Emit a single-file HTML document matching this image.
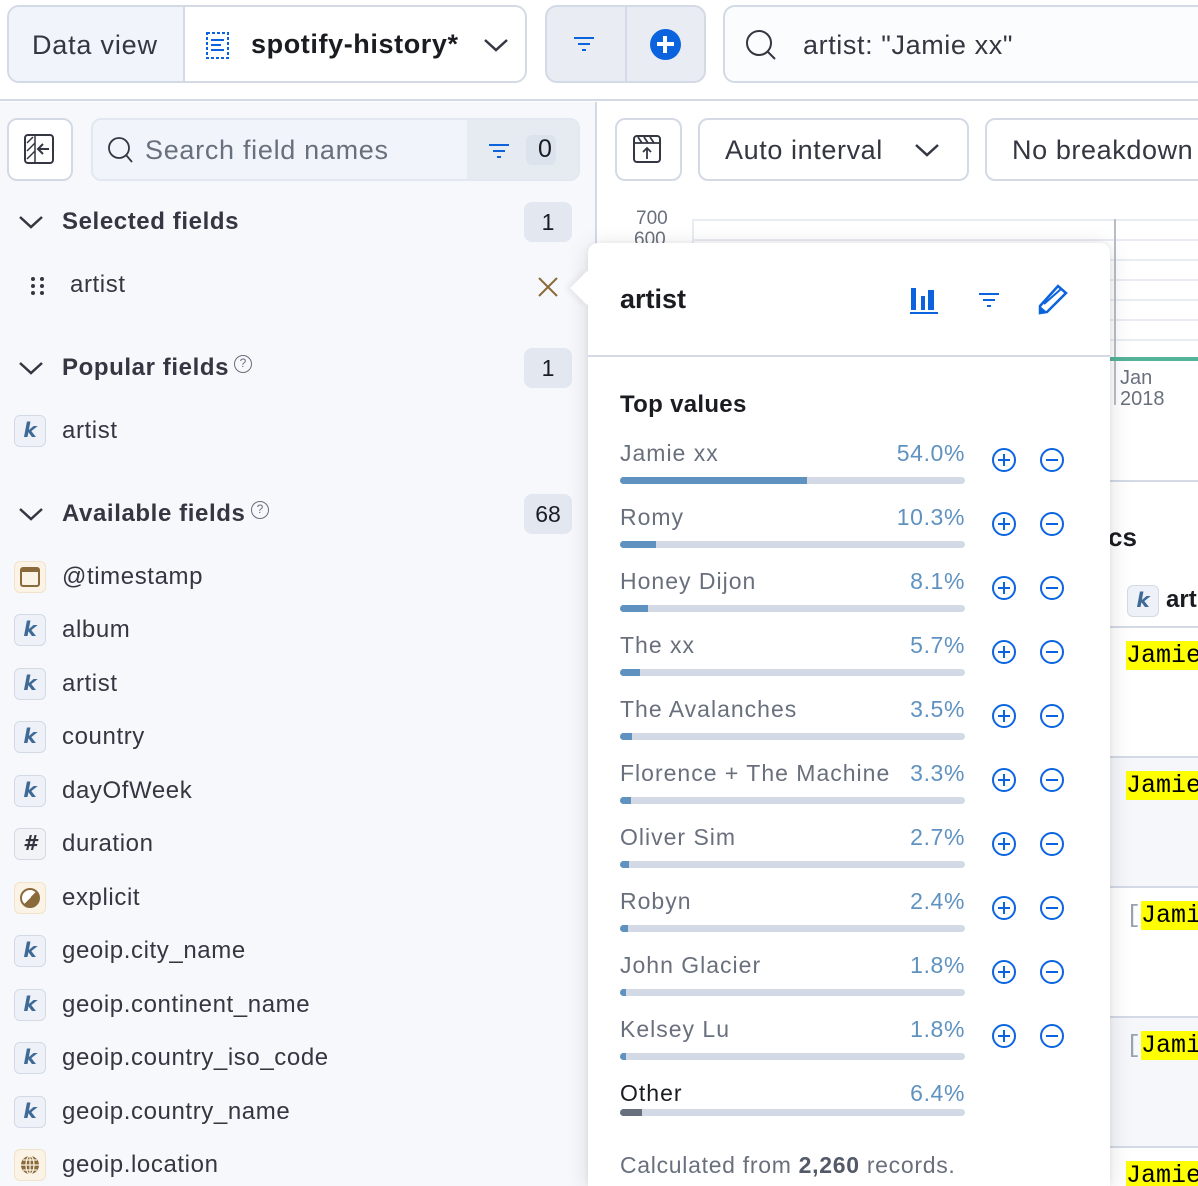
<!DOCTYPE html>
<html><head><meta charset="utf-8"><style>
*{box-sizing:border-box;margin:0;padding:0}
html,body{width:1198px;height:1186px;overflow:hidden}
body{position:relative;background:#fff;font-family:"Liberation Sans",sans-serif;color:#343741}
.a{position:absolute;white-space:nowrap}
.t{position:absolute;white-space:nowrap;line-height:30px;height:30px}
.ls{letter-spacing:0.6px}
.ic{position:absolute;width:32px;height:32px;border-radius:6px;border:1.5px solid #d3dae6;background:#eef2f8;color:#3f6a96;font-weight:bold;font-style:italic;font-size:20px;text-align:center;line-height:29px;font-family:"DejaVu Sans",sans-serif}
.badge{position:absolute;left:524px;width:48px;height:40px;border-radius:8px;background:#e3e8f0;font-size:23px;text-align:center;line-height:40px;color:#1a1c21}
.bar{position:absolute;left:620px;width:345px;height:7px;border-radius:4px;background:#d3dae6;overflow:hidden}
.bar i{position:absolute;left:0;top:0;bottom:0;background:#6092c0}
.lbl{position:absolute;left:620px;font-size:23px;color:#69707d;line-height:30px;letter-spacing:1px}
.pct{position:absolute;right:233px;font-size:23px;color:#6092c0;line-height:30px;letter-spacing:0.6px}
.circ{position:absolute;width:24px;height:24px;border:2px solid #0b64dd;border-radius:50%;color:#0b64dd}
.circ:before{content:"";position:absolute;left:4px;right:4px;top:9px;height:2px;background:#0b64dd}
.plus:after{content:"";position:absolute;top:4px;bottom:4px;left:9px;width:2px;background:#0b64dd}
.hl{background:#ff0;font-family:"Liberation Mono",monospace;font-size:25px;color:#000}
</style></head><body>
<!-- top bar -->
<div class="a" style="left:0;top:0;width:1198px;height:101px;background:#fff;border-bottom:2px solid #d3dae6"></div>
<div class="a" style="left:7px;top:5px;width:520px;height:78px;border:2px solid #d3dae6;border-radius:12px;background:#fff;overflow:hidden">
 <div class="a" style="left:0;top:0;width:176px;height:76px;background:#f1f4fa;border-right:2px solid #d3dae6"></div>
 <div class="t" style="left:23px;top:23px;font-size:27px;color:#343741;letter-spacing:0.8px">Data view</div>
 <svg class="a" style="left:196px;top:24px" width="26" height="30"><rect x="2" y="2" width="21" height="25" stroke="#0b64dd" stroke-width="2" stroke-dasharray="3 2" fill="none"/><path d="M6 9h13M6 14h10M6 19h13" stroke="#0b64dd" stroke-width="2"/></svg>
 <div class="t" style="left:242px;top:22px;font-size:27px;font-weight:bold;color:#1a1c21;letter-spacing:0.6px">spotify-history*</div>
 <svg class="a" style="left:474px;top:30px" width="26" height="16"><path d="M2 3 L13 13 L24 3" stroke="#343741" stroke-width="2.5" fill="none"/></svg>
</div>
<div class="a" style="left:545px;top:5px;width:161px;height:78px;border:2px solid #d3dae6;border-radius:12px;background:#e9edf3"></div>
<div class="a" style="left:625px;top:6px;width:2px;height:76px;background:#d3dae6"></div>
<svg class="a" style="left:573px;top:36px" width="22" height="16"><path d="M1 2h20M5 8h12M9 14h4" stroke="#0b64dd" stroke-width="2"/></svg>
<div class="a" style="left:650px;top:29px;width:31px;height:31px;border-radius:50%;background:#0b64dd"></div>
<div class="a" style="left:663px;top:36px;width:4px;height:17px;background:#fff"></div>
<div class="a" style="left:657px;top:42px;width:17px;height:4px;background:#fff"></div>
<div class="a" style="left:723px;top:5px;width:500px;height:78px;border:2px solid #d3dae6;border-radius:12px;background:#fbfcfd"></div>
<svg class="a" style="left:744px;top:28px" width="36" height="36"><circle cx="15" cy="15" r="12" stroke="#343741" stroke-width="2" fill="none"/><path d="M24 24 L31 31" stroke="#343741" stroke-width="2"/></svg>
<div class="t" style="left:803px;top:30px;font-size:27px;color:#343741;letter-spacing:0.6px">artist: "Jamie xx"</div>

<!-- left panel -->
<div class="a" style="left:0;top:102px;width:597px;height:1084px;background:#f7f8fc;border-right:2px solid #d3dae6"></div>
<div class="a" style="left:7px;top:118px;width:66px;height:63px;border:2px solid #d3dae6;border-radius:10px;background:#fff"></div>
<svg class="a" style="left:23px;top:133px" width="34" height="32"><rect x="2" y="2" width="28" height="28" rx="3" stroke="#343741" stroke-width="2" fill="none"/><path d="M12 2v28M4 10l6-6M4 18l8-8M4 26l8-8" stroke="#343741" stroke-width="1.5"/><path d="M26 16h-10M20 11l-5 5 5 5" stroke="#343741" stroke-width="2" fill="none"/></svg>
<div class="a" style="left:91px;top:118px;width:489px;height:63px;border:2px solid #e3e8f0;border-radius:10px;background:#f1f4fa;overflow:hidden">
 <div class="a" style="left:374px;top:0;width:115px;height:63px;background:#e6ebf2"></div>
 <div class="a" style="left:433px;top:15px;width:30px;height:30px;border-radius:6px;background:#dde3ec"></div>
</div>
<svg class="a" style="left:106px;top:135px" width="30" height="30"><circle cx="13" cy="13" r="10" stroke="#343741" stroke-width="1.8" fill="none"/><path d="M20 20 L26 27" stroke="#343741" stroke-width="1.8"/></svg>
<div class="t" style="left:145px;top:135px;font-size:27px;color:#69707d;letter-spacing:0.7px">Search field names</div>
<svg class="a" style="left:488px;top:143px" width="22" height="16"><path d="M1 2h20M5 8h12M9 14h4" stroke="#0b64dd" stroke-width="2"/></svg>
<div class="t" style="left:538px;top:134px;font-size:25px;color:#1a1c21">0</div>

<svg class="a" style="left:18px;top:214px" width="26" height="16"><path d="M2 3 L13 13 L24 3" stroke="#343741" stroke-width="2.5" fill="none"/></svg>
<div class="t ls" style="left:62px;top:207px;font-size:24px;font-weight:bold">Selected fields</div>
<div class="badge" style="top:202px">1</div>
<div class="a" style="left:31px;top:277px;font-size:0">
 <div class="a" style="left:0;top:0;width:4px;height:4px;border-radius:2px;background:#343741"></div><div class="a" style="left:9px;top:0;width:4px;height:4px;border-radius:2px;background:#343741"></div>
 <div class="a" style="left:0;top:7px;width:4px;height:4px;border-radius:2px;background:#343741"></div><div class="a" style="left:9px;top:7px;width:4px;height:4px;border-radius:2px;background:#343741"></div>
 <div class="a" style="left:0;top:14px;width:4px;height:4px;border-radius:2px;background:#343741"></div><div class="a" style="left:9px;top:14px;width:4px;height:4px;border-radius:2px;background:#343741"></div>
</div>
<div class="t ls" style="left:70px;top:270px;font-size:24px">artist</div>
<svg class="a" style="left:537px;top:276px" width="22" height="22"><path d="M2 2L20 20M20 2L2 20" stroke="#8a6a3a" stroke-width="2"/></svg>

<svg class="a" style="left:18px;top:360px" width="26" height="16"><path d="M2 3 L13 13 L24 3" stroke="#343741" stroke-width="2.5" fill="none"/></svg>
<div class="t ls" style="left:62px;top:353px;font-size:24px;font-weight:bold">Popular fields</div>
<div class="a" style="left:234px;top:355px;width:18px;height:18px;border:1.5px solid #69707d;border-radius:50%;font-size:12px;text-align:center;line-height:15px;color:#69707d">?</div>
<div class="badge" style="top:348px">1</div>
<div class="ic" style="left:14px;top:415px">k</div>
<div class="t ls" style="left:62px;top:416px;font-size:24px">artist</div>

<svg class="a" style="left:18px;top:506px" width="26" height="16"><path d="M2 3 L13 13 L24 3" stroke="#343741" stroke-width="2.5" fill="none"/></svg>
<div class="t ls" style="left:62px;top:499px;font-size:24px;font-weight:bold">Available fields</div>
<div class="a" style="left:251px;top:501px;width:18px;height:18px;border:1.5px solid #69707d;border-radius:50%;font-size:12px;text-align:center;line-height:15px;color:#69707d">?</div>
<div class="badge" style="top:494px">68</div>

<div class="ic" style="left:14px;top:561px;background:#fbf3e6;border-color:#f1e3c9"></div>
<div class="a" style="left:20px;top:567px;width:20px;height:20px;border:2.5px solid #8a6a3a;border-radius:3px;border-top-width:5px"></div>
<div class="t ls" style="left:62px;top:562px;font-size:24px">@timestamp</div>
<div class="ic" style="left:14px;top:614px">k</div><div class="t ls" style="left:62px;top:615px;font-size:24px">album</div>
<div class="ic" style="left:14px;top:668px">k</div><div class="t ls" style="left:62px;top:669px;font-size:24px">artist</div>
<div class="ic" style="left:14px;top:721px">k</div><div class="t ls" style="left:62px;top:722px;font-size:24px">country</div>
<div class="ic" style="left:14px;top:775px">k</div><div class="t ls" style="left:62px;top:776px;font-size:24px">dayOfWeek</div>
<div class="ic" style="left:14px;top:828px;color:#343741;background:#f1f3f6">#</div><div class="t ls" style="left:62px;top:829px;font-size:24px">duration</div>
<div class="ic" style="left:14px;top:882px;background:#fbf3e6;border-color:#f1e3c9"></div>
<div class="a" style="left:20px;top:888px;width:20px;height:20px;border-radius:50%;border:2px solid #8a6a3a;background:linear-gradient(135deg,#fff 50%,#8a6a3a 50%)"></div>
<div class="t ls" style="left:62px;top:883px;font-size:24px">explicit</div>
<div class="ic" style="left:14px;top:935px">k</div><div class="t ls" style="left:62px;top:936px;font-size:24px">geoip.city_name</div>
<div class="ic" style="left:14px;top:989px">k</div><div class="t ls" style="left:62px;top:990px;font-size:24px">geoip.continent_name</div>
<div class="ic" style="left:14px;top:1042px">k</div><div class="t ls" style="left:62px;top:1043px;font-size:24px">geoip.country_iso_code</div>
<div class="ic" style="left:14px;top:1096px">k</div><div class="t ls" style="left:62px;top:1097px;font-size:24px">geoip.country_name</div>
<div class="ic" style="left:14px;top:1149px;background:#fbf3e6;border-color:#f1e3c9"></div>
<svg class="a" style="left:19px;top:1154px" width="22" height="22"><circle cx="11" cy="11" r="9" fill="#8a6a3a"/><path d="M2 11h18M11 2v18M4 6h14M4 16h14" stroke="#fbf3e6" stroke-width="1.2"/><ellipse cx="11" cy="11" rx="4" ry="9" stroke="#fbf3e6" stroke-width="1.2" fill="none"/></svg>
<div class="t ls" style="left:62px;top:1150px;font-size:24px">geoip.location</div>

<!-- right area -->
<div class="a" style="left:615px;top:118px;width:67px;height:63px;border:2px solid #d3dae6;border-radius:10px;background:#fff"></div>
<svg class="a" style="left:632px;top:134px" width="32" height="32"><rect x="2" y="2" width="26" height="26" rx="3" stroke="#343741" stroke-width="2" fill="none"/><path d="M2 9h26M6 3l4 6M12 3l4 6M18 3l4 6M15 25V14M11 18l4-4 4 4" stroke="#343741" stroke-width="1.8" fill="none"/></svg>
<div class="a" style="left:698px;top:118px;width:271px;height:63px;border:2px solid #d3dae6;border-radius:10px;background:#fff"></div>
<div class="t" style="left:725px;top:135px;font-size:27px;letter-spacing:0.6px">Auto interval</div>
<svg class="a" style="left:914px;top:142px" width="26" height="16"><path d="M2 3 L13 13 L24 3" stroke="#343741" stroke-width="2.5" fill="none"/></svg>
<div class="a" style="left:985px;top:118px;width:260px;height:63px;border:2px solid #d3dae6;border-radius:10px;background:#fff"></div>
<div class="t" style="left:1012px;top:135px;font-size:27px;letter-spacing:0.6px">No breakdown</div>

<div class="t" style="left:636px;top:207px;font-size:19px;color:#69707d;line-height:24px">700</div>
<div class="t" style="left:634px;top:228px;font-size:19px;color:#69707d;line-height:24px">600</div>
<div class="a" style="left:692px;top:219px;width:520px;height:140px;border-left:2px solid #e9edf3;background:repeating-linear-gradient(180deg,#e9edf3 0 2px,#fff 2px 20px)"></div>
<div class="a" style="left:1114px;top:219px;width:2px;height:186px;background:#b8bec8"></div>
<div class="a" style="left:1110px;top:357px;width:88px;height:4px;background:#54b399"></div>
<div class="t" style="left:1120px;top:368px;font-size:20px;color:#69707d;line-height:21px">Jan<br>2018</div>
<div class="a" style="left:597px;top:480px;width:601px;height:2px;background:#d3dae6"></div>
<div class="t" style="left:1108px;top:522px;font-size:26px;font-weight:bold;color:#1a1c21">cs</div>
<div class="ic" style="left:1127px;top:585px">k</div>
<div class="t" style="left:1166px;top:585px;font-size:24px;font-weight:bold;color:#1a1c21">art</div>
<div class="a" style="left:1110px;top:626px;width:88px;height:2px;background:#d3dae6"></div>
<div class="a" style="left:1110px;top:756px;width:88px;height:130px;background:#f5f7fb;border-top:2px solid #d3dae6"></div>
<div class="a" style="left:1110px;top:886px;width:88px;height:2px;background:#d3dae6"></div>
<div class="a" style="left:1110px;top:1016px;width:88px;height:130px;background:#f5f7fb;border-top:2px solid #d3dae6"></div>
<div class="a" style="left:1110px;top:1146px;width:88px;height:2px;background:#d3dae6"></div>
<div class="a" style="left:1126px;top:641px"><span class="hl">Jamie</span></div>
<div class="a" style="left:1126px;top:771px"><span class="hl">Jamie</span></div>
<div class="a" style="left:1126px;top:901px"><span style="font-family:'Liberation Mono',monospace;font-size:25px;color:#98a2b3">[</span><span class="hl">Jami</span></div>
<div class="a" style="left:1126px;top:1031px"><span style="font-family:'Liberation Mono',monospace;font-size:25px;color:#98a2b3">[</span><span class="hl">Jami</span></div>
<div class="a" style="left:1126px;top:1161px"><span class="hl">Jamie</span></div>

<!-- popover -->
<div class="a" style="left:588px;top:243px;width:522px;height:943px;background:#fff;border-radius:10px 10px 0 0;box-shadow:0 4px 24px rgba(0,0,0,0.13),0 0 6px rgba(0,0,0,0.06)"></div>
<div class="a" style="left:575px;top:276px;width:24px;height:24px;background:#fff;transform:rotate(45deg);box-shadow:-3px 3px 6px rgba(0,0,0,0.06)"></div>
<div class="a" style="left:588px;top:355px;width:522px;height:2px;background:#d3dae6"></div>
<div class="t" style="left:620px;top:284px;font-size:27px;font-weight:bold;color:#1a1c21">artist</div>
<svg class="a" style="left:908px;top:284px" width="32" height="32"><path d="M3 4h5v22H3zM13 12h4v14h-4zM20 6h6v20h-6z" fill="#0b64dd"/><path d="M2 29h28" stroke="#0b64dd" stroke-width="2"/></svg>
<svg class="a" style="left:978px;top:292px" width="22" height="16"><path d="M1 2h20M5 8h12M9 14h4" stroke="#0b64dd" stroke-width="2"/></svg>
<svg class="a" style="left:1036px;top:282px" width="34" height="34"><path d="M4 24 L22 4 L30 11 L11 30 L4 31 Z" stroke="#0b64dd" stroke-width="2.5" fill="none"/><path d="M8 22 L25 7" stroke="#0b64dd" stroke-width="2"/><path d="M4 24 L11 30 L4 31Z" fill="#0b64dd"/></svg>
<div class="t" style="left:620px;top:390px;font-size:24px;font-weight:bold;color:#1a1c21;letter-spacing:0.3px">Top values</div>

<div class="lbl" style="top:438px">Jamie xx</div><div class="pct" style="top:438px">54.0%</div><div class="bar" style="top:477px"><i style="width:187px"></i></div><div class="circ plus" style="left:992px;top:448px"></div><div class="circ" style="left:1040px;top:448px"></div>
<div class="lbl" style="top:502px">Romy</div><div class="pct" style="top:502px">10.3%</div><div class="bar" style="top:541px"><i style="width:36px"></i></div><div class="circ plus" style="left:992px;top:512px"></div><div class="circ" style="left:1040px;top:512px"></div>
<div class="lbl" style="top:566px">Honey Dijon</div><div class="pct" style="top:566px">8.1%</div><div class="bar" style="top:605px"><i style="width:28px"></i></div><div class="circ plus" style="left:992px;top:576px"></div><div class="circ" style="left:1040px;top:576px"></div>
<div class="lbl" style="top:630px">The xx</div><div class="pct" style="top:630px">5.7%</div><div class="bar" style="top:669px"><i style="width:20px"></i></div><div class="circ plus" style="left:992px;top:640px"></div><div class="circ" style="left:1040px;top:640px"></div>
<div class="lbl" style="top:694px">The Avalanches</div><div class="pct" style="top:694px">3.5%</div><div class="bar" style="top:733px"><i style="width:12px"></i></div><div class="circ plus" style="left:992px;top:704px"></div><div class="circ" style="left:1040px;top:704px"></div>
<div class="lbl" style="top:758px">Florence + The Machine</div><div class="pct" style="top:758px">3.3%</div><div class="bar" style="top:797px"><i style="width:11px"></i></div><div class="circ plus" style="left:992px;top:768px"></div><div class="circ" style="left:1040px;top:768px"></div>
<div class="lbl" style="top:822px">Oliver Sim</div><div class="pct" style="top:822px">2.7%</div><div class="bar" style="top:861px"><i style="width:9px"></i></div><div class="circ plus" style="left:992px;top:832px"></div><div class="circ" style="left:1040px;top:832px"></div>
<div class="lbl" style="top:886px">Robyn</div><div class="pct" style="top:886px">2.4%</div><div class="bar" style="top:925px"><i style="width:8px"></i></div><div class="circ plus" style="left:992px;top:896px"></div><div class="circ" style="left:1040px;top:896px"></div>
<div class="lbl" style="top:950px">John Glacier</div><div class="pct" style="top:950px">1.8%</div><div class="bar" style="top:989px"><i style="width:6px"></i></div><div class="circ plus" style="left:992px;top:960px"></div><div class="circ" style="left:1040px;top:960px"></div>
<div class="lbl" style="top:1014px">Kelsey Lu</div><div class="pct" style="top:1014px">1.8%</div><div class="bar" style="top:1053px"><i style="width:6px"></i></div><div class="circ plus" style="left:992px;top:1024px"></div><div class="circ" style="left:1040px;top:1024px"></div>
<div class="lbl" style="top:1078px;color:#1a1c21">Other</div><div class="pct" style="top:1078px">6.4%</div><div class="bar" style="top:1109px"><i style="width:22px;background:#69707d"></i></div>
<div class="t" style="left:620px;top:1150px;font-size:23px;color:#69707d;letter-spacing:0.7px">Calculated from <b style="color:#535966">2,260</b> records.</div>
</body></html>
